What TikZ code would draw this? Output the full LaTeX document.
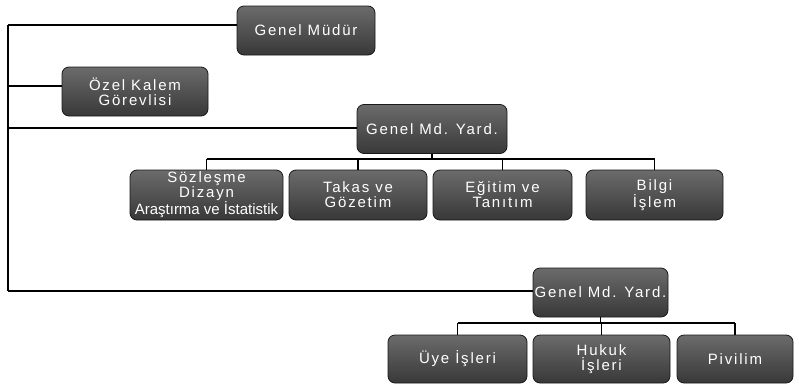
\documentclass[tikz,border=0pt]{standalone}
\usepackage{fontspec}
\newfontfamily\boxfont[LetterSpace=12]{Liberation Sans}
\usepackage{tikz}
\usetikzlibrary{positioning, calc}

\begin{document}
\begin{tikzpicture}[x=1pt, y=-1pt,
    box/.style={draw=black!90, line width=0.8pt, rounded corners=7pt, top color=black!58, bottom color=black!78,
        text=white, align=center, inner sep=0pt, minimum height=49pt,
        font=\boxfont\fontsize{15}{15}\selectfont},
    link/.style={line width=1.2pt, black}
]
    \useasboundingbox (0,0) rectangle (799,386);

    \node[box, minimum width=138pt] (gm) at (306,30.5) {Genel Müdür};
    \node[box, minimum width=146pt] (ozel) at (135,91.5) {Özel Kalem\\Görevlisi};
    \node[box, minimum width=150pt] (gmy1) at (432,129) {Genel Md. Yard.};

    \node[box, minimum width=153pt, minimum height=50pt] (soz) at (206.5,195) {Sözleşme\\Dizayn\\{\addfontfeature{LetterSpace=0}Araştırma ve İstatistik}};
    \node[box, minimum width=138pt, minimum height=50pt] (takas) at (358,195) {Takas ve\\Gözetim};
    \node[box, minimum width=139pt, minimum height=50pt] (egitim) at (502.5,195) {Eğitim ve\\Tanıtım};
    \node[box, minimum width=137pt, minimum height=50pt] (bilgi) at (654.5,195) {Bilgi\\İşlem};

    \node[box, minimum width=135pt] (gmy2) at (600.5,292.5) {Genel Md. Yard.};
    \node[box, minimum width=139pt, minimum height=48pt] (uye) at (457.5,359) {Üye İşleri};
    \node[box, minimum width=137pt, minimum height=48pt] (hukuk) at (601.5,359) {Hukuk\\İşleri};
    \node[box, minimum width=116pt, minimum height=48pt] (piv) at (735,359) {Pivilim};

    \coordinate (t1) at (8,25);
    \coordinate (t2) at (8,86);
    \coordinate (t3) at (8,128);
    \coordinate (t4) at (8,291);
    \coordinate (bus1) at (0,159);
    \coordinate (bus2) at (0,323);

    \draw[link] (t1) -- (t4);
    \draw[link] (t1) -- (t1 -| gm.west);
    \draw[link] (t2) -- (t2 -| ozel.west);
    \draw[link] (t3) -- (t3 -| gmy1.west);
    \draw[link] (t4) -- (t4 -| gmy2.west);

    \draw[link] (gmy1.south) -- (gmy1.south |- bus1);
    \draw[link] (bus1 -| soz.north) -- (bus1 -| bilgi.north);
    \foreach \c in {soz, takas, egitim, bilgi}
        \draw[link] (bus1 -| \c.north) -- (\c.north);

    \draw[link] (gmy2.south) -- (gmy2.south |- bus2);
    \draw[link] (bus2 -| uye.north) -- (bus2 -| piv.north);
    \foreach \c in {uye, hukuk, piv}
        \draw[link] (bus2 -| \c.north) -- (\c.north);
\end{tikzpicture}
\end{document}
